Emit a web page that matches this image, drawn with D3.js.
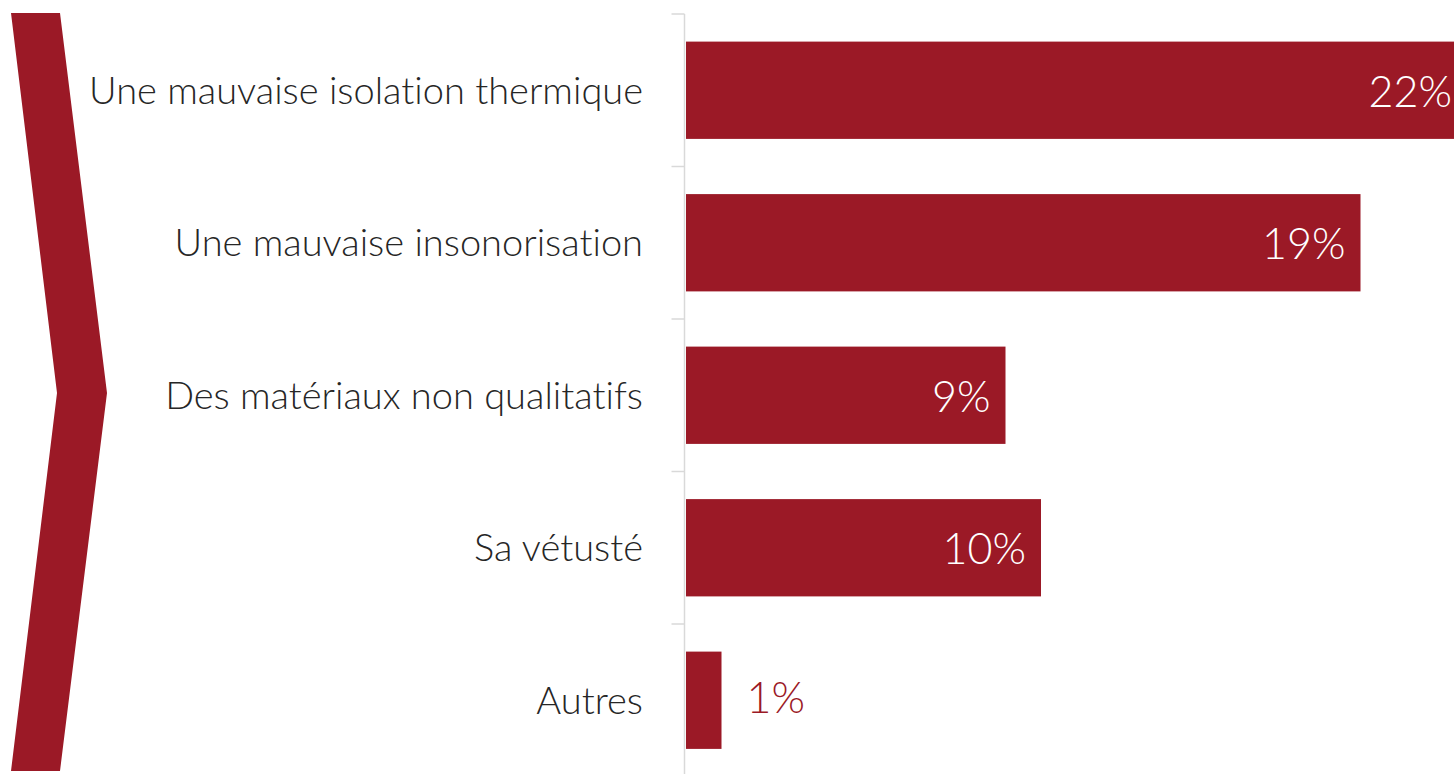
<!DOCTYPE html>
<html>
<head>
<meta charset="utf-8">
<script src="https://cdn.jsdelivr.net/npm/d3@7"></script>
<style>
  html, body { margin: 0; padding: 0; background: #ffffff; overflow: hidden; }
  svg { display: block; }
  text { font-variant-ligatures: none; font-feature-settings: "liga" 0; }
</style>
</head>
<body>
<svg id="chart" width="1454" height="774"></svg>
<script>
const categories = [
  "Une mauvaise isolation thermique",
  "Une mauvaise insonorisation",
  "Des matériaux non qualitatifs",
  "Sa vétusté",
  "Autres"
];
const values = [22, 19, 9, 10, 1];
const valueLabels = ["22%", "19%", "9%", "10%", "1%"];

const W = 1454, H = 774;
const barColor = "#9b1926";
const textColor = "#262626";
const axisColor = "#d9d9d9";
const fontFamily = "Lato, 'Open Sans', sans-serif";

const svg = d3.select("#chart");

const axisX = 684.5;
const y = d3.scaleBand()
  .domain(categories)
  .range([14, 776.5])
  .paddingInner(0.362)
  .paddingOuter(0.181);

const x = d3.scaleLinear()
  .domain([0, 22])
  .range([686, 1467]);

// chevron decoration
const chevTop = 13, chevBottom = 771, chevMid = (chevTop + chevBottom) / 2 + 1;
const chevron = [[11, chevTop], [60, chevTop], [107, chevMid], [60, chevBottom], [11, chevBottom], [57, chevMid]];
svg.append("path")
  .attr("d", d3.line()(chevron) + "Z")
  .attr("fill", barColor);

// bars
svg.append("g").selectAll("rect")
  .data(values)
  .join("rect")
  .attr("x", x(0))
  .attr("y", (d, i) => y(categories[i]))
  .attr("width", d => x(d) - x(0))
  .attr("height", y.bandwidth())
  .attr("fill", barColor);

// axis
const gAxis = svg.append("g")
  .attr("transform", `translate(${axisX},0)`);
gAxis.append("line")
  .attr("x1", 0).attr("x2", 0)
  .attr("y1", y.range()[0]).attr("y2", H)
  .attr("stroke", axisColor).attr("stroke-width", 1.5);
// ticks at band boundaries
const boundaries = categories.map(c => y(c) - y.step() * y.paddingInner() / 2);
gAxis.selectAll(".bt")
  .data(boundaries)
  .join("line")
  .attr("class", "bt")
  .attr("x1", -13).attr("x2", 0)
  .attr("y1", d => d).attr("y2", d => d)
  .attr("stroke", axisColor).attr("stroke-width", 1.5);

// category labels
svg.append("g").selectAll("text")
  .data(categories)
  .join("text")
  .attr("x", 643)
  .attr("y", d => y(d) + y.bandwidth() / 2)
  .attr("dy", "0.36em")
  .attr("text-anchor", "end")
  .attr("font-family", fontFamily)
  .attr("font-weight", 300)
  .attr("font-size", 38)
  .attr("fill", textColor)
  .text(d => d);

// value labels
svg.append("g").selectAll("text")
  .data(values)
  .join("text")
  .attr("x", d => (x(d) - x(0) > 100) ? x(d) - 15 : x(d) + 25)
  .attr("y", (d, i) => y(categories[i]) + y.bandwidth() / 2)
  .attr("dy", d => (x(d) - x(0) > 100) ? "0.38em" : "0.3em")
  .attr("text-anchor", d => (x(d) - x(0) > 100) ? "end" : "start")
  .attr("font-family", fontFamily)
  .attr("font-weight", 300)
  .attr("font-size", 43)
  .attr("fill", d => (x(d) - x(0) > 100) ? "#ffffff" : barColor)
  .text((d, i) => valueLabels[i]);
</script>
</body>
</html>
